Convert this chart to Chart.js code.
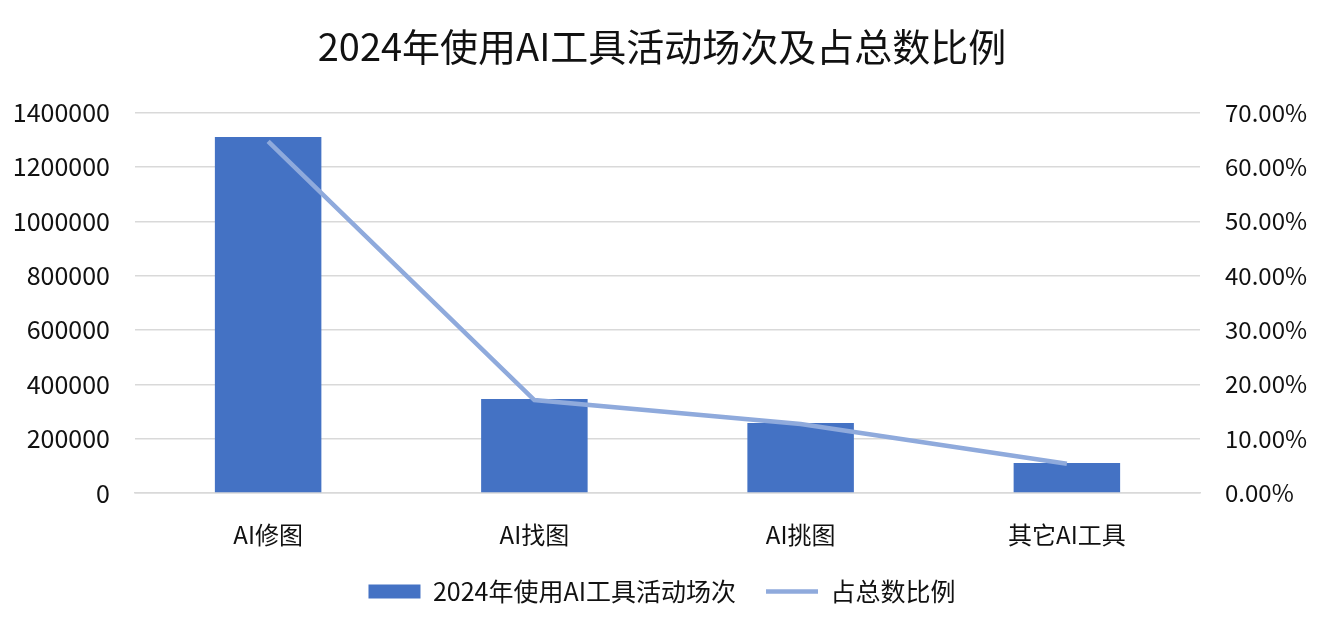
<!DOCTYPE html>
<html>
<head>
<meta charset="utf-8">
<script src="https://cdn.jsdelivr.net/npm/chart.js@4"></script>
<style>
  html, body { margin: 0; padding: 0; background: #fff; }
  #wrap { width: 1324px; height: 632px; }
</style>
</head>
<body>
<div id="wrap"><canvas id="chart"></canvas></div>
<script>
const categories = ["AI修图", "AI找图", "AI挑图", "其它AI工具"];
const sessionCounts = [1310000, 346000, 258000, 110000];
const shareOfTotal = [0.647, 0.171, 0.127, 0.054];

const barLabel = "2024年使用AI工具活动场次";
const lineLabel = "占总数比例";
const titleText = "2024年使用AI工具活动场次及占总数比例";

const FONT = "'Noto Sans CJK SC', 'Noto Sans', sans-serif";
const TEXT_COLOR = "#111111";
const GRID_COLOR = "#d9d9d9";

function makeChart() {
  const ctx = document.getElementById("chart").getContext("2d");

  return new Chart(ctx, {
    type: "bar",
    data: {
      labels: categories,
      datasets: [
        {
          type: "bar",
          label: barLabel,
          data: sessionCounts,
          backgroundColor: "#4472C4",
          borderWidth: 0,
          yAxisID: "y",
          order: 1,
          pointStyle: "rect",
          categoryPercentage: 1,
          barPercentage: 0.4,
        },
        {
          type: "line",
          label: lineLabel,
          data: shareOfTotal,
          borderColor: "#8FAADC",
          backgroundColor: "#8FAADC",
          borderWidth: 4.5,
          pointRadius: 0,
          pointStyle: "line",
          tension: 0,
          yAxisID: "y1",
          order: 0,
        },
      ],
    },
    options: {
      responsive: true,
      maintainAspectRatio: false,
      animation: false,
      layout: { padding: { bottom: 18 } },
      scales: {
        x: {
          grid: { display: false, drawTicks: false },
          border: { display: true, color: GRID_COLOR, width: 1.5 },
          ticks: {
            color: TEXT_COLOR,
            font: { family: FONT, size: 24 },
            padding: 27,
          },
          afterFit: (axis) => { axis.height = 56; },
        },
        y: {
          position: "left",
          min: 0,
          max: 1400000,
          grid: { color: GRID_COLOR, lineWidth: 1.5, drawTicks: false },
          border: { display: false },
          ticks: {
            stepSize: 200000,
            color: TEXT_COLOR,
            font: { family: FONT, size: 25 },
            padding: 25,
            callback: (v) => String(v),
          },
          afterFit: (axis) => { axis.width = 135; },
        },
        y1: {
          position: "right",
          min: 0,
          max: 0.7,
          grid: { display: false, drawTicks: false },
          border: { display: false },
          ticks: {
            stepSize: 0.1,
            color: TEXT_COLOR,
            font: { family: FONT, size: 24 },
            padding: 25,
            callback: (v) => (v * 100).toFixed(2) + "%",
          },
          afterFit: (axis) => { axis.width = 124; },
        },
      },
      plugins: {
        title: {
          display: true,
          text: titleText,
          color: TEXT_COLOR,
          font: { family: FONT, size: 38, weight: "normal" },
          padding: { top: 24, bottom: 43 },
        },
        legend: {
          position: "bottom",
          labels: {
            color: TEXT_COLOR,
            font: { family: FONT, size: 25 },
            usePointStyle: true,
            pointStyleWidth: 52,
            boxHeight: 14,
            padding: 30,
            sort: (a, b) => a.datasetIndex - b.datasetIndex,
          },
        },
        tooltip: { enabled: false },
      },
    },
  });
}

document.addEventListener("DOMContentLoaded", makeChart);
</script>
</body>
</html>
